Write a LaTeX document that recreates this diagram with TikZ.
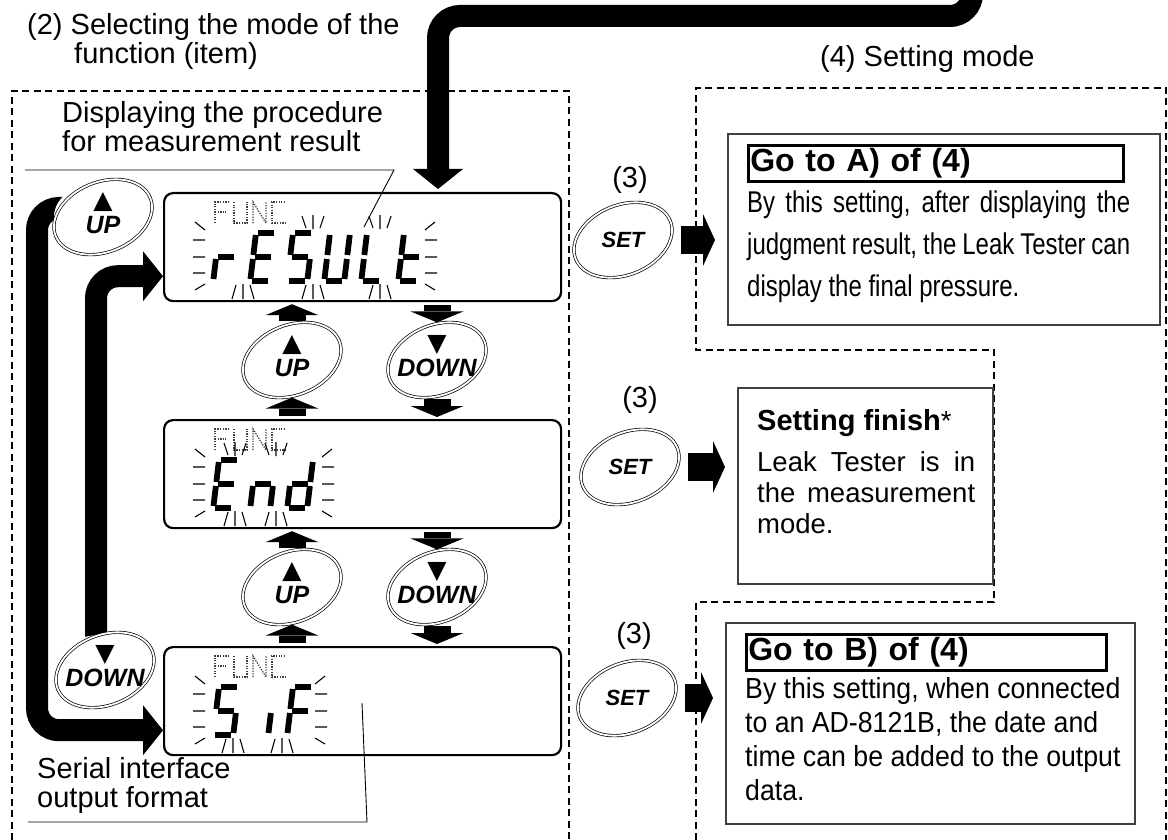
\documentclass[tikz,border=0pt]{standalone}
\usepackage{fontspec}
\setmainfont{Liberation Sans}
\newfontfamily\symfont{DejaVu Sans}
\newfontfamily\narrowfont[FakeStretch=0.8]{Liberation Sans}
\newfontfamily\semifont[FakeStretch=0.92]{Liberation Sans}
\usetikzlibrary{arrows.meta, positioning, shapes.geometric, backgrounds}

% seven-segment glyphs: one x1/y1/x2/y2 entry per segment
\def\sgr{0/26/0/46, 2/24/18/24}
\def\sgE{2/0/18/0, 0/2/0/22, 0/26/0/46, 2/48/18/48, 2/24/18/24}
\def\sgS{2/0/18/0, 0/2/0/22, 2/24/18/24, 20/26/20/46, 2/48/18/48}
\def\sgU{0/2/0/22, 0/26/0/46, 2/48/18/48, 20/26/20/46, 20/2/20/22}
\def\sgL{0/2/0/22, 0/26/0/46, 2/48/18/48}
\def\sgt{0/2/0/22, 0/26/0/46, 2/48/18/48, 2/24/18/24}
\def\sgn{0/26/0/46, 2/24/18/24, 20/26/20/46}
\def\sgd{20/2/20/22, 20/26/20/46, 2/48/18/48, 0/26/0/46, 2/24/18/24}
\def\sgi{20/26/20/46}
\def\sgF{2/0/18/0, 0/2/0/22, 0/26/0/46, 2/24/18/24}

\newcommand\lcd[3]{%
  \begin{scope}[shift={(#1,#2)}, xslant=0.12]
    \foreach \xa/\ya/\xb/\yb in #3 {\draw[segm] (\xa,\ya) -- (\xb,\yb);}
  \end{scope}}

% dotted FUNC legend
\newcommand\funclbl[2]{%
  \begin{scope}[shift={(#1,#2)}]
    \draw[dotm] (0,21) -- (0,0) -- (13,0) (0,10) -- (11,10);
    \draw[dotm] (19,0) -- (19,21) -- (32,21) -- (32,0);
    \draw[dotm] (38,21) -- (38,0) -- (51,21) -- (51,0);
    \draw[dotm] (70,0) -- (57,0) -- (57,21) -- (70,21);
  \end{scope}}

% blinking marks: box top, left x, right x, bottom groups
\newcommand\blink[4]{%
  \begin{scope}[shift={(0,#1)}]
    \draw[ray] (#2+2,30) -- (#2+12,38) (#2,48) -- (#2+12,48) (#2,65) -- (#2+12,65)
      (#2,81) -- (#2+12,81) (#2+2,98) -- (#2+12,92);
    \draw[ray] (#3+10,30) -- (#3,38) (#3,48) -- (#3+12,48) (#3,65) -- (#3+12,65)
      (#3,81) -- (#3+12,81) (#3+10,98) -- (#3,92);
    \foreach \cx in {#4} {\draw[ray] (\cx-11,107) -- (\cx-7,93) (\cx,107) -- (\cx,92) (\cx+11,107) -- (\cx+7,93);}
  \end{scope}}
\newcommand\blinktop[2]{%
  \begin{scope}[shift={(0,#1)}]
    \foreach \cx in {#2} {\draw[ray] (\cx-11,24) -- (\cx-7,36) (\cx,23) -- (\cx,37) (\cx+11,24) -- (\cx+7,36);}
  \end{scope}}

\begin{document}
\begin{tikzpicture}[x=1pt, y=-1pt,
    lbl/.style={font=\fontsize{29pt}{29pt}\selectfont, align=left, inner sep=0pt},
    frame/.style={dash pattern=on 7pt off 4.5pt, line width=1.3pt},
    disp/.style={draw, line width=2.2pt, rounded corners=9pt, minimum width=397pt, minimum height=108pt, anchor=north west, inner sep=0pt},
    info/.style={draw=black!75, line width=1.6pt, anchor=north west, inner sep=0pt},
    hdr/.style={draw, line width=2.6pt, anchor=north west, inner sep=2pt, minimum height=36pt, align=left, font=\fontsize{32pt}{32pt}\selectfont\bfseries},
    body/.style={anchor=north west, inner sep=0pt, align=left},
    btn/.style={ellipse, fill=white, minimum width=98pt, minimum height=70pt, inner sep=0pt, align=center, font=\fontsize{22pt}{22pt}\selectfont\bfseries\itshape},
    keyud/.style={font=\fontsize{25pt}{25pt}\selectfont\bfseries\itshape, text depth=9pt},
    ring/.style={double, double distance=1.8pt, line width=0.7pt},
    flow/.style={line width=22pt, rounded corners=22pt, -{Triangle[width=50pt, length=20pt, line width=0pt]}},
    blk/.style={line width=27pt, -{Triangle[width=53pt, length=11pt, line width=0pt]}, shorten <=3pt, shorten >=2pt},
    blkr/.style={line width=28pt, -{Triangle[width=52pt, length=12pt, line width=0pt]}, shorten <=9pt, shorten >=12pt},
    segm/.style={line width=5.8pt},
    dotm/.style={dash pattern=on 1.3pt off 1.3pt, line width=1.3pt, black!75},
    ray/.style={line width=1.1pt},
    lead/.style={line width=0.9pt}
]
\useasboundingbox (0,0) rectangle (1168,840);

% dashed frames
\draw[frame] (12,840) -- (12,91) -- (569,91) -- (569,840);
\draw[frame] (696,840) -- (696,602) -- (994,602) -- (994,350) -- (696,350) -- (696,88) -- (1166,88) -- (1166,840);

% displays
\node[disp] (box1) at (163,192) {};
\node[disp] (box2) at (163,419) {};
\node[disp] (box3) at (163,646) {};

% setting mode boxes
\node[info, minimum width=432pt, minimum height=191pt] (boxA) at (727,133) {};
\node[info, minimum width=255pt, minimum height=196pt] (boxC) at (737,387) {};
\node[info, minimum width=409pt, minimum height=201pt] (boxB) at (725,622) {};

% keys
\node[btn, keyud] (upL) at (103,217) {{\symfont ▲}\\UP};
\node[btn, keyud] (dnL) at (105,670) {{\symfont ▼}\\DOWN};
\node[btn, keyud] (up1) at (292,360) {{\symfont ▲}\\UP};
\node[btn, keyud] (dn1) at (437,360) {{\symfont ▼}\\DOWN};
\node[btn, keyud] (up2) at (292,587) {{\symfont ▲}\\UP};
\node[btn, keyud] (dn2) at (437,587) {{\symfont ▼}\\DOWN};
\node[btn] (set1) at (623,240) {SET};
\node[btn] (set2) at (630,467) {SET};
\node[btn] (set3) at (627,698) {SET};
\foreach \k in {upL,dnL,up1,dn1,up2,dn2,set1,set2,set3}
  \draw[ring] (\k.center) ellipse [x radius=51pt, y radius=35pt, rotate=22];

% big flow arrows
\coordinate (feed) at (972,-40);
\coordinate (bend) at (438,16);
\coordinate (lpO) at (37,0);
\coordinate (in1) at ([yshift=26pt]box1.south west);
\coordinate (in3) at ([yshift=26pt]box3.south west);
\begin{pgfonlayer}{background}
\draw[flow] (feed) |- (bend) -- ([yshift=3pt]box1.north -| bend);
\draw[flow] ([yshift=9pt]upL.center) -| (lpO |- in3) -- (in3);
\draw[flow] ([xshift=-9pt]dnL.center) |- (in1);
\end{pgfonlayer}

% small key arrows
\draw[blk] (up1.north) -- (up1.north |- box1.south);
\draw[blk] (box2.north -| up1) -- (up1.south);
\draw[blk] (box1.south -| dn1) -- (dn1.north);
\draw[blk] (dn1.south) -- (box2.north -| dn1);
\draw[blk] (up2.north) -- (up2.north |- box2.south);
\draw[blk] (box3.north -| up2) -- (up2.south);
\draw[blk] (box2.south -| dn2) -- (dn2.north);
\draw[blk] (dn2.south) -- (box3.north -| dn2);

\draw[blkr] (set1.east) -- (set1.east -| boxA.west);
\draw[blkr] (set2.east) -- (set2.east -| boxC.west);
\draw[blkr] (set3.east) -- (set3.east -| boxB.west);

% labels
\node[lbl, anchor=north west] (ttl) at (27,13) {(2) Selecting the mode of the\\\hspace*{47pt}function (item)};
\node[lbl, anchor=north west] (dspl) at (62,101) {Displaying the procedure\\for measurement result};
\node[lbl, anchor=north west] (sifl) at (37,757) {Serial interface\\output format};
\node[lbl, anchor=north west] (setm) at (820,45) {(4) Setting mode};
\node[lbl] (n3a) at (630,180) {(3)};
\node[lbl] (n3b) at (640,400) {(3)};
\node[lbl] (n3c) at (634,636) {(3)};

\coordinate (ldA) at (25,170);
\coordinate (ldB) at (394,170);
\coordinate (ldC) at (364,227);
\draw[lead] (ldA) -- (ldB) -- (ldC);
\coordinate (lsA) at (28,822);
\coordinate (lsB) at (367,822);
\coordinate (lsC) at (362,703);
\draw[lead] (lsA) -- (lsB) -- (lsC);

% setting texts
\node[hdr, text width=371pt] (hdA) at (747,144) {Go to A) of (4)};
\node[body, font=\narrowfont\fontsize{30pt}{42pt}\selectfont] (txA) at (747,191)
  {\makebox[383pt][s]{By this setting, after displaying the}\\\makebox[383pt][s]{judgment result, the Leak Tester can}\\display the final pressure.};
\node[body, font=\fontsize{27.5pt}{31pt}\selectfont] (txC) at (757,409)
  {{\fontsize{29pt}{29pt}\selectfont\bfseries Setting finish}*\\[10pt]\makebox[218pt][s]{Leak Tester is in}\\\makebox[218pt][s]{the measurement}\\mode.};
\node[hdr, text width=356pt] (hdB) at (745,633) {Go to B) of (4)};
\node[body, font=\semifont\fontsize{29pt}{34pt}\selectfont] (txB) at (745,677)
  {By this setting, when connected\\to an AD-8121B, the date and\\time can be added to the output\\data.};

% display contents
\funclbl{215}{202}
\lcd{219}{233}{\sgr} \lcd{256}{233}{\sgE} \lcd{293}{233}{\sgS}
\lcd{330}{233}{\sgU} \lcd{367}{233}{\sgL} \lcd{404}{233}{\sgt}
\blink{192}{193}{425}{243,313,380}
\blinktop{192}{313,380}

\funclbl{215}{429}
\lcd{219}{460}{\sgE} \lcd{256}{460}{\sgn} \lcd{293}{460}{\sgd}
\blink{419}{193}{322}{235,276}
\blinktop{419}{235,276}

\funclbl{215}{656}
\lcd{219}{687}{\sgS} \lcd{254}{687}{\sgi} \lcd{293}{687}{\sgF}
\blink{646}{193}{315}{233,282}
\end{tikzpicture}
\end{document}
